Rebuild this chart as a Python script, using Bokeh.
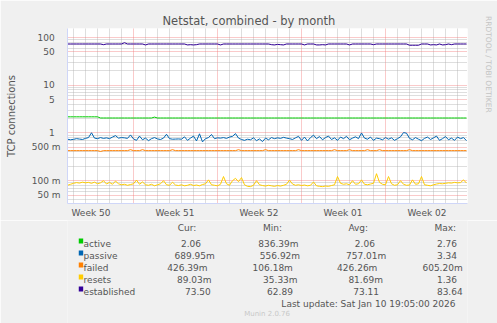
from bokeh.plotting import figure, ColumnDataSource
from bokeh.models import Range1d, FixedTicker, Grid, LinearAxis
from bokeh.layouts import column
from bokeh.core.properties import value
from bokeh.embed import file_html
from bokeh.resources import INLINE

# ---------------- data ----------------
title = "Netstat, combined - by month"
y_label = "TCP connections"
series_names = ["active", "passive", "failed", "resets", "established"]
series_colors = ["#00CC00", "#0066B3", "#FF8000", "#FFCC00", "#330099"]

hours_per_sample = 6
first_week_boundary_h = 131          # Sunday 00:00, hours after graph start
week_labels = ["Week 50", "Week 51", "Week 52", "Week 01", "Week 02"]

active = [
    2.18, 2.18, 2.18, 2.18, 2.18, 2.18, 2.18, 2.18, 2.18, 2.18,
    2.18, 2.06, 2.06, 2.06, 2.06, 2.06, 2.06, 2.06, 2.06, 2.06,
    2.06, 2.06, 2.06, 2.06, 2.06, 2.06, 2.06, 2.06, 2.06, 2.15,
    2.06, 2.06, 2.06, 2.06, 2.06, 2.06, 2.06, 2.06, 2.06, 2.06,
    2.06, 2.06, 2.06, 2.06, 2.06, 2.06, 2.06, 2.06, 2.06, 2.06,
    2.06, 2.06, 2.06, 2.06, 2.06, 2.06, 2.06, 2.06, 2.06, 2.06,
    2.06, 2.06, 2.06, 2.06, 2.06, 2.06, 2.06, 2.06, 2.06, 2.06,
    2.06, 2.06, 2.06, 2.06, 2.06, 2.06, 2.06, 2.06, 2.06, 2.06,
    2.06, 2.06, 2.06, 2.06, 2.06, 2.06, 2.06, 2.06, 2.06, 2.06,
    2.06, 2.06, 2.06, 2.06, 2.06, 2.06, 2.06, 2.06, 2.06, 2.06,
    2.06, 2.06, 2.06, 2.06, 2.06, 2.06, 2.06, 2.06, 2.06, 2.06,
    2.06, 2.06, 2.06, 2.06, 2.06, 2.06, 2.06, 2.06, 2.06, 2.06,
    2.06, 2.06, 2.06, 2.06, 2.06, 2.06, 2.06, 2.06, 2.06, 2.06,
    2.06, 2.06, 2.06, 2.06,
]

passive_milli = [
    740, 720, 735, 760, 745, 730, 770, 800, 1010, 780,
    760, 800, 770, 790, 760, 820, 880, 780, 800, 790,
    770, 910, 750, 700, 860, 720, 780, 690, 760, 800,
    750, 730, 780, 940, 760, 740, 745, 750, 740, 830,
    700, 780, 860, 680, 960, 650, 760, 800, 930, 760,
    790, 780, 800, 770, 820, 850, 970, 780, 730, 700,
    740, 720, 790, 690, 750, 660, 780, 720, 800, 760,
    790, 770, 810, 780, 760, 730, 790, 850, 700, 820,
    680, 800, 900, 760, 840, 720, 800, 860, 730, 790,
    700, 820, 760, 850, 720, 780, 830, 760, 1000, 780,
    740, 820, 700, 780, 760, 720, 800, 740, 790, 700,
    760, 830, 1020, 990, 770, 720, 800, 740, 690, 770,
    820, 730, 790, 860, 700, 760, 840, 720, 780, 700,
    820, 760, 800, 690,
]

failed = [
    0.426, 0.426, 0.426, 0.426, 0.426, 0.426, 0.426, 0.426, 0.426, 0.426,
    0.426, 0.410, 0.426, 0.426, 0.426, 0.426, 0.426, 0.426, 0.426, 0.426,
    0.426, 0.446, 0.426, 0.426, 0.426, 0.446, 0.426, 0.426, 0.426, 0.426,
    0.426, 0.426, 0.426, 0.426, 0.426, 0.446, 0.426, 0.426, 0.426, 0.426,
    0.426, 0.426, 0.426, 0.426, 0.426, 0.426, 0.426, 0.426, 0.426, 0.426,
    0.426, 0.426, 0.426, 0.426, 0.426, 0.426, 0.426, 0.446, 0.426, 0.426,
    0.426, 0.426, 0.426, 0.426, 0.426, 0.426, 0.446, 0.426, 0.426, 0.426,
    0.426, 0.426, 0.426, 0.426, 0.426, 0.426, 0.426, 0.446, 0.426, 0.426,
    0.426, 0.426, 0.426, 0.426, 0.426, 0.426, 0.426, 0.426, 0.426, 0.446,
    0.426, 0.426, 0.426, 0.426, 0.446, 0.426, 0.426, 0.426, 0.426, 0.426,
    0.446, 0.426, 0.426, 0.426, 0.446, 0.426, 0.426, 0.426, 0.426, 0.426,
    0.426, 0.426, 0.426, 0.426, 0.446, 0.426, 0.426, 0.426, 0.426, 0.426,
    0.426, 0.426, 0.426, 0.426, 0.426, 0.426, 0.426, 0.426, 0.426, 0.426,
    0.426, 0.426, 0.426, 0.426,
]

resets_milli = [
    80, 84, 88, 91, 89, 93, 90, 92, 88, 93,
    86, 90, 100, 85, 92, 84, 98, 86, 82, 84,
    80, 83, 86, 103, 84, 94, 82, 80, 84, 78,
    82, 86, 100, 82, 80, 93, 81, 79, 82, 78,
    80, 84, 79, 81, 78, 83, 86, 104, 82, 80,
    78, 84, 122, 86, 80, 100, 112, 95, 116, 82,
    76, 75, 80, 100, 82, 79, 77, 80, 78, 76,
    79, 77, 80, 84, 103, 85, 80, 82, 79, 81,
    78, 80, 94, 78, 76, 75, 77, 76, 79, 82,
    122, 88, 84, 86, 82, 100, 84, 86, 104, 84,
    82, 85, 88, 140, 92, 84, 82, 122, 86, 80,
    82, 100, 84, 80, 81, 104, 84, 86, 122, 82,
    80, 78, 82, 85, 87, 86, 88, 90, 89, 92,
    90, 91, 104, 89,
]

established = [
    73.5, 73.5, 73.5, 73.5, 73.5, 73.5, 73.5, 73.5, 73.5, 73.5,
    73.5, 73.5, 71.0, 73.5, 73.5, 73.5, 73.5, 73.5, 73.5, 78.0,
    73.5, 73.5, 73.5, 73.5, 73.5, 73.5, 70.0, 73.5, 73.5, 73.5,
    73.5, 73.5, 73.5, 73.5, 73.5, 73.5, 73.5, 73.5, 73.5, 73.5,
    70.0, 71.0, 70.0, 71.0, 73.5, 73.5, 73.5, 73.5, 73.5, 73.5,
    73.5, 70.0, 73.5, 73.5, 73.5, 73.5, 73.5, 73.5, 73.5, 73.5,
    73.5, 73.5, 73.5, 73.5, 73.5, 73.5, 73.5, 73.5, 71.0, 70.0,
    72.0, 71.0, 70.0, 73.5, 73.5, 73.5, 73.5, 73.5, 73.5, 70.0,
    73.5, 73.5, 73.5, 70.0, 70.0, 71.0, 70.0, 73.5, 73.5, 73.5,
    73.5, 73.5, 73.5, 73.5, 70.0, 73.5, 73.5, 73.5, 73.5, 73.5,
    73.5, 73.5, 71.0, 73.5, 73.5, 73.5, 73.5, 73.5, 73.5, 73.5,
    73.5, 73.5, 73.5, 73.5, 69.0, 69.0, 69.0, 69.0, 73.5, 73.5,
    73.5, 70.0, 71.0, 70.0, 73.5, 70.0, 71.0, 73.5, 71.0, 73.5,
    73.5, 73.5, 73.5, 73.5,
]

cur_values = ["2.06", "689.95m", "426.39m", "89.03m", "73.50"]
min_values = ["836.39m", "556.92m", "106.18m", "35.33m", "62.89"]
avg_values = ["2.06", "757.01m", "426.26m", "81.69m", "73.11"]
max_values = ["2.76", "3.34", "605.20m", "1.36", "83.64"]
column_headers = ["Cur:", "Min:", "Avg:", "Max:"]
last_update = "Last update: Sat Jan 10 19:05:00 2026"
footer = "Munin 2.0.76"
watermark = "RRDTOOL / TOBI OETIKER"

y_major = [0.05, 0.1, 0.5, 1, 5, 10, 50, 100]
y_major_labels = ["50 m", "100 m", "500 m", "1\u2007", "5\u2007", "10\u2007",
                  "50\u2007", "100\u2007"]

passive = [v / 1000 for v in passive_milli]
resets = [v / 1000 for v in resets_milli]
hours = [i * hours_per_sample for i in range(len(active))]

# ---------------- layout / style ----------------
W, H = 497, 323
MAIN_H = 220
FL, FR, FT, FB = 67, 467, 28, 204      # frame edges in canvas pixels
FONT = "DejaVu Sans"
TXT = "#555555"
AXIS = "#CFD6F8"
BG = "#F0F0F0"
span_h = 800

p = figure(width=W, height=MAIN_H, x_range=Range1d(0, span_h),
           y_range=Range1d(0.0332, 155), y_axis_type="log",
           output_backend="svg", toolbar_location=None,
           min_border_left=FL, min_border_right=W - FR,
           min_border_top=FT, min_border_bottom=MAIN_H - FB,
           background_fill_color="white", border_fill_color=BG,
           outline_line_color=None, title=title)

p.title.align = "left"
p.title.offset = 95
p.title.standoff = 2
p.title.text_font = FONT
p.title.text_font_size = "11.5px"
p.title.text_font_style = "normal"
p.title.text_color = TXT

p.grid.visible = False

# grids
week_bounds = [first_week_boundary_h + 168 * k for k in range(4)]
day_lines = [first_week_boundary_h + 24 * k for k in range(-5, 28)
             if k % 7 != 0 and 0 < first_week_boundary_h + 24 * k < span_h]
week_mids = [first_week_boundary_h - 84 + 168 * k for k in range(5)]

y_minor = []
for d in [0.01, 0.1, 1, 10, 100]:
    for k in (2, 3, 4, 6, 7, 8, 9):
        v = round(d * k, 4)
        if 0.0332 < v < 155:
            y_minor.append(v)

grid_style = dict(grid_line_color="#F07070", grid_line_alpha=0.75,
                  grid_line_dash="1 1", minor_grid_line_color="#B0B0B0",
                  minor_grid_line_alpha=0.85, minor_grid_line_dash="1 1")
p.add_layout(Grid(dimension=0, ticker=FixedTicker(ticks=week_bounds,
                                                  minor_ticks=day_lines),
                  **grid_style), "center")
p.add_layout(Grid(dimension=1, ticker=FixedTicker(ticks=y_major,
                                                  minor_ticks=y_minor),
                  **grid_style), "center")

# axes
p.xaxis.ticker = FixedTicker(ticks=week_mids)
p.xaxis.major_label_overrides = {m: lab for m, lab in zip(week_mids, week_labels)}
p.yaxis.ticker = FixedTicker(ticks=y_major)
p.yaxis.major_label_overrides = {v: lab for v, lab in zip(y_major, y_major_labels)}
p.yaxis.axis_label = y_label

# watermark as the label of an extra right axis
p.extra_y_ranges = {"wm": Range1d(0, FB - FT)}
wm_pos = FB - 51
wm_axis = LinearAxis(y_range_name="wm", ticker=FixedTicker(ticks=[wm_pos]),
                     major_label_overrides={wm_pos: watermark},
                     major_label_orientation="vertical",
                     major_label_standoff=16, axis_line_color=None)
p.add_layout(wm_axis, "right")

for ax in (p.xaxis[0], p.yaxis[0], wm_axis):
    ax.major_tick_line_color = None
    ax.minor_tick_line_color = None
    ax.major_tick_out = 0
    ax.major_tick_in = 0
    ax.minor_tick_out = 0
    ax.minor_tick_in = 0
    ax.major_label_text_font = FONT
    ax.major_label_text_font_size = "9px"
    ax.major_label_text_color = TXT
    ax.axis_label_text_font = FONT
    ax.axis_label_text_font_size = "10px"
    ax.axis_label_text_font_style = "normal"
    ax.axis_label_text_color = TXT
p.xaxis[0].axis_line_color = AXIS
p.yaxis[0].axis_line_color = AXIS
wm_axis.major_label_text_font_size = "7.5px"
wm_axis.major_label_text_color = "#C4C4C4"
p.xaxis.major_label_standoff = 4
p.yaxis[0].major_label_standoff = 7
p.yaxis[0].axis_label_standoff = 12

# lines
for vals, col in zip([active, passive, failed, resets, established], series_colors):
    p.line(hours, vals, line_color=col, line_width=1)

# ---------------- legend area (pixel coordinates of the page) ----------------
LEG_H = H - MAIN_H
lg = figure(width=W, height=LEG_H, x_range=Range1d(0, W),
            y_range=Range1d(H, MAIN_H), output_backend="svg",
            toolbar_location=None, x_axis_location=None, y_axis_location=None,
            min_border=0, min_border_left=0, min_border_right=0,
            min_border_top=0, min_border_bottom=0,
            background_fill_color=BG, border_fill_color=BG,
            outline_line_color=None)
lg.grid.visible = False

header_base = 227
row_base = [243, 255, 267, 279, 291]
header_x = [137, 243, 349, 456]
cur_x = [141, 133, 124, 136, 146]
min_x = [237, 239, 230, 243, 248]
avg_x = [357, 346, 335, 349, 355]
max_x = [459, 459, 441, 459, 459]

tx, ty, tt = [], [], []
for hx, htxt in zip(header_x, column_headers):
    tx.append(hx); ty.append(header_base); tt.append(htxt)
for i, name in enumerate(series_names):
    b = row_base[i]
    for xx, s in [(20, name), (cur_x[i], cur_values[i]), (min_x[i], min_values[i]),
                  (avg_x[i], avg_values[i]), (max_x[i], max_values[i])]:
        tx.append(xx); ty.append(b); tt.append(s)

lg.text(x="x", y="y", text="t", source=ColumnDataSource(dict(x=tx, y=ty, t=tt)),
        text_font=value(FONT), text_font_size="9px", text_color=TXT,
        text_baseline="alphabetic", text_align="left")
lg.text(x=[482], y=[303], text=[last_update], text_font=value(FONT),
        text_font_size="9px", text_color=TXT, text_baseline="alphabetic",
        text_align="right")
lg.text(x=[248], y=[313.5], text=[footer], text_font=value(FONT),
        text_font_size="7px", text_color="#C8C8C8", text_baseline="alphabetic",
        text_align="center")
lg.quad(left=[14] * 5, right=[19.5] * 5, top=[b - 5 for b in row_base],
        bottom=row_base, fill_color=series_colors, line_color=None)

layout = column(p, lg, spacing=0)
open("out.html", "w").write(file_html(layout, INLINE))
